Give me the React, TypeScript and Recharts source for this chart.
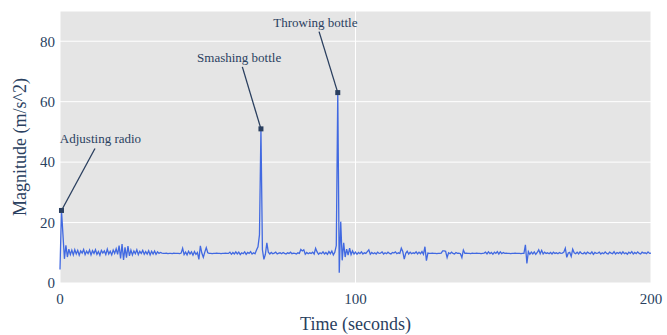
import {
  CartesianGrid,
  Label,
  Line,
  LineChart,
  ReferenceDot,
  XAxis,
  YAxis
} from "recharts";

// sampled every half second, 0 .. 200 s
const sampleStep = 0.5;

const magnitude = [
  4.5, 24.0, 16.0, 8.0, 12.5, 8.6, 11.2, 9.4, 10.9, 9.3, 11.0, 9.6, 10.8, 9.2, 10.6, 9.9, 11.1, 9.4, 10.5, 9.7,
  10.9, 9.3, 10.7, 9.8, 11.0, 9.5, 10.4, 9.2, 10.8, 9.9, 10.6, 9.4, 11.2, 9.6, 10.5, 9.3, 10.9, 9.8, 11.3, 9.5,
  12.4, 8.1, 12.9, 7.6, 11.8, 8.4, 12.2, 9.0, 10.9, 9.3, 10.6, 9.7, 11.0, 9.4, 10.5, 9.8, 10.8, 9.5, 10.4, 9.6,
  10.7, 9.3, 10.5, 9.6, 10.6, 9.5, 10.3, 9.8, 10.1, 9.9, 9.8, 9.8, 9.9, 9.7, 9.8, 9.8, 9.7, 9.9, 9.8, 9.8,
  9.8, 9.7, 9.9, 11.5, 9.4, 10.2, 9.3, 10.5, 9.6, 10.3, 9.2, 10.4, 9.5, 10.1, 7.8, 12.3, 9.9, 8.5, 10.2, 11.7,
  10.0, 9.8, 9.8, 9.7, 9.8, 9.8, 9.9, 9.8, 9.8, 9.7, 9.8, 9.8, 9.9, 9.8, 9.8, 10.2, 9.5, 10.1, 9.6, 10.3,
  9.6, 10.2, 9.4, 10.0, 9.7, 10.3, 9.5, 10.1, 9.8, 10.4, 9.6, 10.0, 9.7, 10.9, 12.0, 15.9, 51.0, 11.0, 7.8, 9.5,
  13.3, 10.2, 9.6, 10.1, 9.7, 9.9, 10.2, 9.6, 9.9, 10.0, 9.7, 10.1, 9.8, 9.6, 10.0, 9.8, 10.2, 9.7, 9.9, 9.8,
  9.6, 10.0, 9.8, 11.1, 10.6, 11.0, 9.5, 10.1, 9.7, 10.0, 9.8, 10.2, 9.6, 11.5, 10.3, 9.5, 10.0, 9.7, 10.3, 9.6,
  10.1, 9.5, 10.4, 9.7, 10.6, 9.3, 10.2, 12.4, 63.0, 3.4, 20.3, 7.5, 13.3, 8.6, 11.2, 9.2, 11.5, 9.4, 10.6, 9.6,
  10.2, 9.5, 10.1, 9.7, 10.3, 9.6, 10.0, 9.8, 10.4, 11.0, 9.5, 10.1, 9.7, 10.0, 9.6, 10.2, 9.8, 9.9, 10.3, 9.6,
  10.0, 9.7, 10.2, 9.8, 9.6, 10.1, 9.9, 10.3, 9.7, 10.0, 9.8, 11.5, 10.4, 7.9, 9.8, 10.5, 9.6, 10.2, 9.7, 10.0,
  9.8, 10.3, 9.6, 10.2, 9.7, 10.4, 9.5, 12.0, 7.4, 9.9, 9.8, 9.8, 9.9, 9.8, 9.8, 9.7, 9.8, 9.8, 9.9, 10.6,
  10.6, 10.5, 8.4, 10.0, 9.7, 10.2, 9.8, 9.6, 10.1, 9.8, 9.9, 9.7, 8.4, 10.9, 9.8, 9.9, 9.8, 9.8, 9.7, 9.9,
  9.8, 9.8, 9.9, 9.8, 9.8, 9.7, 9.8, 9.9, 10.2, 9.6, 10.3, 9.7, 10.1, 9.5, 10.2, 9.8, 10.4, 9.6, 10.3, 9.7,
  10.1, 9.8, 9.9, 9.8, 9.8, 9.7, 9.8, 9.8, 9.9, 9.8, 9.8, 9.8, 9.7, 9.8, 9.8, 12.6, 6.5, 10.4, 9.5, 10.2,
  9.6, 10.3, 9.5, 10.1, 11.0, 9.7, 10.8, 9.6, 10.2, 9.8, 10.0, 9.7, 10.1, 9.6, 10.2, 9.8, 10.0, 9.7, 10.1, 9.8,
  9.9, 10.2, 11.5, 8.5, 9.9, 10.1, 8.8, 11.2, 10.0, 9.7, 10.2, 9.6, 10.3, 9.8, 9.7, 10.1, 9.6, 10.2, 9.9, 9.7,
  10.3, 9.5, 10.1, 9.8, 9.9, 10.2, 9.6, 10.0, 9.7, 10.3, 9.8, 9.6, 10.2, 9.9, 9.7, 10.4, 9.6, 10.1, 9.8, 10.2,
  9.6, 10.3, 9.7, 10.0, 9.5, 10.2, 9.8, 10.4, 9.6, 10.1, 9.7, 10.3, 9.8, 9.6, 10.2, 9.9, 10.0, 9.7, 10.3, 9.8,
  9.9
];

const xTicks = [0, 100, 200];
const yTicks = [0, 20, 40, 60, 80];

const events = [
  { label: "Adjusting radio", time: 0.5, value: 24.0 },
  { label: "Smashing bottle", time: 68.0, value: 51.0 },
  { label: "Throwing bottle", time: 94.0, value: 63.0 }
];

// arrow tail offsets (px) for each annotation, same order as events
const arrowOffsets = [
  { ax: 33.5, ay: -62, tx: 39 },
  { ax: -18.6, ay: -62, tx: -21.8 },
  { ax: -18.7, ay: -61, tx: -22.4 }
];

const data = magnitude.map((value, i) => ({ time: i * sampleStep, value }));

const FONT = "'Liberation Serif', 'Times New Roman', serif";
const INK = "#2a3f5f";

function Callout(props: any) {
  const { cx, cy, label, ax, ay, tx } = props;
  if (cx == null || cy == null) return null;
  return (
    <g>
      <line x1={cx} y1={cy} x2={cx + ax} y2={cy + ay} stroke={INK} strokeWidth={1.3} />
      <rect x={cx - 2.5} y={cy - 2.5} width={5} height={5} fill={INK} />
      <text
        x={cx + tx}
        y={cy + ay - 5}
        textAnchor="middle"
        style={{ fontFamily: FONT, fontSize: 13, fill: INK }}
      >
        {label}
      </text>
    </g>
  );
}

export default function App() {
  const tickStyle = { fill: INK, style: { fontFamily: FONT, fontSize: 15 } };
  return (
    <div style={{ position: "absolute", left: 0, top: 0, fontFamily: FONT }}>
      <LineChart width={667} height={335} data={data} margin={{ top: 11, right: 16, left: 0, bottom: 0 }}>
        <CartesianGrid fill="#e5e5e5" stroke="#ffffff" strokeWidth={1} />
        <XAxis
          dataKey="time"
          type="number"
          domain={[0, 200]}
          ticks={xTicks}
          interval={0}
          height={52}
          axisLine={false}
          tickLine={false}
          tickSize={7}
          tickMargin={3}
          tick={tickStyle}
        >
          <Label
            value="Time (seconds)"
            position="insideBottom"
            offset={5}
            style={{ fontFamily: FONT, fontSize: 18, fill: INK }}
          />
        </XAxis>
        <YAxis
          type="number"
          domain={[0, 90]}
          ticks={yTicks}
          interval={0}
          width={60}
          axisLine={false}
          tickLine={false}
          tickSize={3}
          tickMargin={2}
          tick={tickStyle}
        >
          <Label
            value="Magnitude (m/s^2)"
            angle={-90}
            position="insideLeft"
            offset={20}
            style={{ fontFamily: FONT, fontSize: 18, fill: INK, textAnchor: "middle" }}
          />
        </YAxis>
        <Line
          type="linear"
          dataKey="value"
          stroke="#4169e1"
          strokeWidth={1.3}
          dot={false}
          activeDot={false}
          isAnimationActive={false}
        />
        {events.map((ev, i) => (
          <ReferenceDot
            key={ev.label}
            x={ev.time}
            y={ev.value}
            ifOverflow="visible"
            shape={(p: any) => <Callout {...p} label={ev.label} {...arrowOffsets[i]} />}
          />
        ))}
      </LineChart>
    </div>
  );
}
